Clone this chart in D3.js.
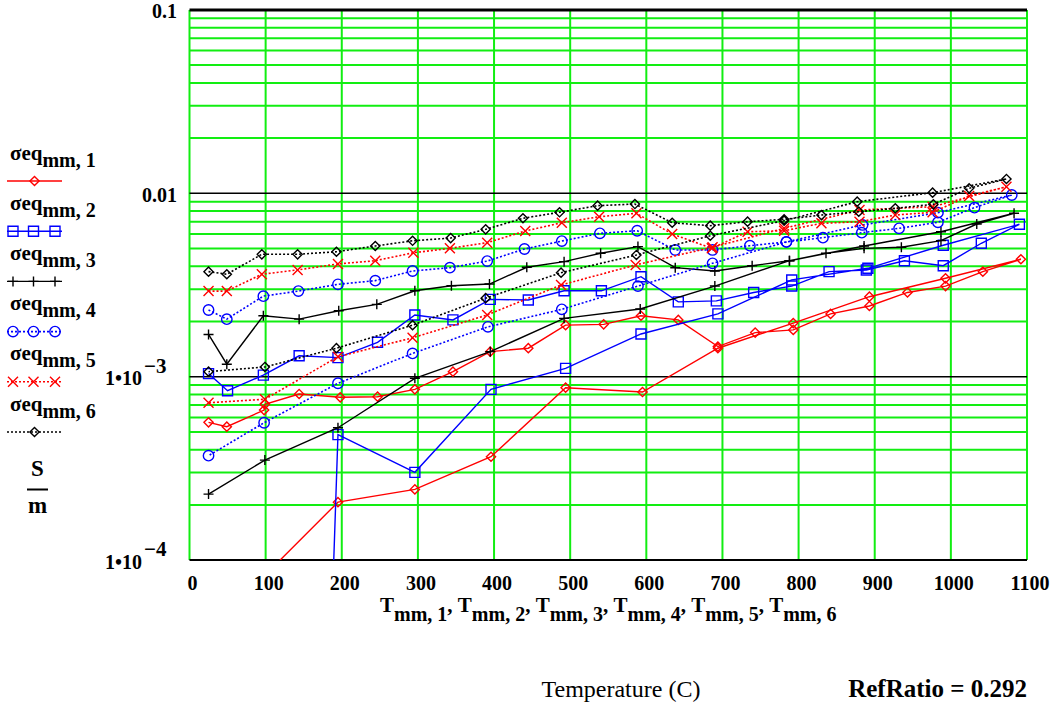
<!DOCTYPE html>
<html><head><meta charset="utf-8">
<script src="https://cdn.jsdelivr.net/npm/d3@7"></script>
<style>
body{margin:0;background:#fff}
svg{display:block}
text{font-family:"Liberation Serif","Times New Roman",serif}
</style>
</head><body>
<svg id="c" width="1057" height="704"></svg>
<script>
// ---------- data (temperature path: heating, then cooling) ----------
const T1=[25,49,98,99,144,198,247,296,346,395,445,494,544,593,642,694,743,793,842,893,943,993,1042,1092, 993,893,793,694,595,494,396,296,195,97];
const S1=[5.64e-4,5.34e-4,6.58e-4,7.07e-4,8.05e-4,7.72e-4,7.78e-4,8.53e-4,1.065e-3,1.37e-3,1.43e-3,1.91e-3,1.93e-3,2.15e-3,2.04e-3,1.46e-3,1.74e-3,1.80e-3,2.20e-3,2.43e-3,2.88e-3,3.12e-3,3.74e-3,4.37e-3, 3.44e-3,2.73e-3,1.96e-3,1.43e-3,8.25e-4,8.71e-4,3.66e-4,2.43e-4,2.07e-4,8.1e-5];

const T2=[25,50,97,144,195,247,296,346,395,445,492,541,593,642,692,741,791,840,889,939,990,1040,1090, 990,891,791,694,593,494,396,296,195,180];
const S2=[1.04e-3,8.39e-4,1.02e-3,1.30e-3,1.27e-3,1.54e-3,2.17e-3,2.04e-3,2.64e-3,2.62e-3,2.94e-3,2.94e-3,3.51e-3,2.56e-3,2.59e-3,2.88e-3,3.12e-3,3.74e-3,3.82e-3,4.29e-3,4.03e-3,5.34e-3,6.78e-3, 5.21e-3,3.90e-3,3.37e-3,2.20e-3,1.71e-3,1.11e-3,8.53e-4,3.01e-4,4.83e-4,6.7e-6];

const T3=[25,49,97,144,196,246,296,344,394,443,492,540,589,638,690,739,788,836,886,935,987,1034,1083, 987,886,788,690,592,492,395,296,195,99,25];
const S3=[1.70e-3,1.17e-3,2.15e-3,2.06e-3,2.29e-3,2.48e-3,2.94e-3,3.13e-3,3.20e-3,3.95e-3,4.24e-3,4.71e-3,5.12e-3,3.93e-3,3.77e-3,4.03e-3,4.29e-3,4.71e-3,5.01e-3,5.08e-3,5.52e-3,6.80e-3,7.78e-3, 6.17e-3,5.16e-3,4.29e-3,3.12e-3,2.34e-3,2.08e-3,1.37e-3,9.80e-4,5.27e-4,3.51e-4,2.29e-4];

const T4=[25,49,97,143,195,244,293,342,391,440,489,539,588,638,687,736,784,832,883,932,983,1031,1080, 983,884,784,687,589,489,392,293,195,98,25];
const S4=[2.31e-3,2.06e-3,2.75e-3,2.93e-3,3.19e-3,3.34e-3,3.77e-3,3.93e-3,4.27e-3,4.97e-3,5.49e-3,6.05e-3,6.25e-3,4.91e-3,4.91e-3,5.18e-3,5.43e-3,5.73e-3,6.10e-3,6.44e-3,6.95e-3,8.35e-3,9.79e-3, 7.84e-3,6.72e-3,5.43e-3,4.15e-3,3.12e-3,2.33e-3,1.87e-3,1.34e-3,9.21e-4,5.61e-4,3.71e-4];

const T5=[25,49,95,142,195,244,294,342,391,441,489,538,587,634,686,733,781,830,880,927,976,1024,1073, 976,880,781,687,586,488,391,293,195,99,25];
const S5=[2.93e-3,2.93e-3,3.62e-3,3.82e-3,4.12e-3,4.29e-3,4.74e-3,5.01e-3,5.38e-3,6.23e-3,6.91e-3,7.45e-3,7.78e-3,6.0e-3,5.01e-3,6.17e-3,6.25e-3,6.86e-3,7.0e-3,7.61e-3,7.88e-3,9.67e-3,1.086e-2, 8.45e-3,8.11e-3,6.44e-3,5.08e-3,4.07e-3,3.16e-3,2.17e-3,1.63e-3,1.285e-3,7.53e-4,7.21e-4];

const T6=[25,49,95,142,193,244,293,343,389,438,486,536,585,634,684,733,781,830,879,927,977,1024,1073, 976,877,781,684,587,488,389,293,193,99,25];
const S6=[3.74e-3,3.62e-3,4.65e-3,4.65e-3,4.80e-3,5.16e-3,5.51e-3,5.7e-3,6.36e-3,7.31e-3,7.88e-3,8.56e-3,8.74e-3,6.91e-3,6.66e-3,7.00e-3,7.21e-3,7.61e-3,7.94e-3,8.28e-3,8.71e-3,1.065e-2,1.197e-2, 1.008e-2,9.0e-3,7.09e-3,5.87e-3,4.61e-3,3.69e-3,2.68e-3,1.91e-3,1.43e-3,1.13e-3,1.065e-3];

const xTicks=[0,100,200,300,400,500,600,700,800,900,1000,1100];
const yTickValues=[0.1,0.01,0.001,0.0001];
const yTickMantissa=["0.1","0.01","1\u202210","1\u202210"];
const yTickExponent=["","","\u22123","\u22124"];
const seriesIndex=["1","2","3","4","5","6"];
const axisTitleIndex=["1","2","3","4","5","6"];
const bottomLabel="Temperature (C)";
const refLabel="RefRatio = 0.292";

// ---------- styles ----------
const styles=[
  {color:"#ff0000",dash:null,marker:"diamond",legendMarkers:1},
  {color:"#0000ff",dash:null,marker:"square",legendMarkers:3},
  {color:"#000000",dash:null,marker:"plus",legendMarkers:3},
  {color:"#0000ff",dash:"2,2",marker:"circle",legendMarkers:3},
  {color:"#ff0000",dash:"2,2",marker:"cross",legendMarkers:3},
  {color:"#000000",dash:"2,2",marker:"diamond",legendMarkers:1}
];
const seriesData=[[T1,S1],[T2,S2],[T3,S3],[T4,S4],[T5,S5],[T6,S6]].map(([t,s])=>t.map((v,i)=>({t:v,v:s[i]})));

const svg=d3.select("#c");
const L=189.5,R=1027,Top=9.9,Bot=560.1;
const x=d3.scaleLinear().domain([0,1100]).range([L,R]);
const y=d3.scaleLog().domain([1e-4,0.1]).range([Bot,Top]);
const GREEN="#12ee12";

svg.append("rect").attr("width",1057).attr("height",704).attr("fill","#fff");
svg.append("defs").append("clipPath").attr("id","clip")
  .append("rect").attr("x",L).attr("y",Top).attr("width",R-L).attr("height",Bot-Top);

const grid=svg.append("g");
const minor=[];
for(let e=-4;e<=-2;e++) for(let k=2;k<=9;k++) minor.push(k*Math.pow(10,e));
grid.selectAll("line.hm").data(minor).enter().append("line")
  .attr("x1",L).attr("x2",R).attr("y1",d=>y(d)).attr("y2",d=>y(d))
  .attr("stroke",GREEN).attr("stroke-width",2);
grid.selectAll("line.v").data(xTicks).enter().append("line")
  .attr("x1",d=>x(d)).attr("x2",d=>x(d)).attr("y1",Top).attr("y2",Bot)
  .attr("stroke",GREEN).attr("stroke-width",2);
grid.selectAll("line.dec").data(yTickValues).enter().append("line")
  .attr("x1",L).attr("x2",R).attr("y1",d=>y(d)).attr("y2",d=>y(d))
  .attr("stroke","#000").attr("stroke-width",(d,i)=>i===0?3:(i===3?2:1.6));

function markerPath(type,s){
  switch(type){
    case "diamond": return `M0,${-s}L${s},0L0,${s}L${-s},0Z`;
    case "square": return `M${-s},${-s}H${s}V${s}H${-s}Z`;
    case "plus": return `M${-s},0H${s}M0,${-s}V${s}`;
    case "cross": return `M${-s},${-s}L${s},${s}M${-s},${s}L${s},${-s}`;
    case "circle": return `M${s},0A${s},${s} 0 1,1 ${-s},0A${s},${s} 0 1,1 ${s},0Z`;
  }
}
const markerSize={diamond:4.6,square:5,plus:5,cross:5,circle:5.2};

const plot=svg.append("g").attr("clip-path","url(#clip)");
const line=d3.line().x(d=>x(d.t)).y(d=>y(d.v));
seriesData.forEach((data,i)=>{
  const st=styles[i];
  plot.append("path").datum(data).attr("d",line).attr("fill","none")
    .attr("stroke",st.color).attr("stroke-width",st.dash?1.6:1.4)
    .attr("stroke-dasharray",st.dash);
  plot.selectAll(null).data(data).enter().append("path")
    .attr("transform",d=>`translate(${x(d.t)},${y(d.v)})`)
    .attr("d",markerPath(st.marker,markerSize[st.marker]))
    .attr("fill","none").attr("stroke",st.color).attr("stroke-width",1.4);
});

// x tick labels
svg.selectAll("text.xt").data(xTicks).enter().append("text")
  .attr("x",d=>x(d)+3).attr("y",590).attr("text-anchor","middle")
  .attr("font-size",20).attr("font-weight","bold").text(d=>d);

// y tick labels
yTickValues.forEach((v,i)=>{
  const t=svg.append("text").attr("font-size",20).attr("font-weight","bold")
    .attr("y",y(v)+8.5);
  if(yTickExponent[i]===""){
    t.attr("x",177).attr("text-anchor","end").text(yTickMantissa[i]);
  } else {
    t.attr("x",105).attr("text-anchor","start");
    t.append("tspan").text(yTickMantissa[i]);
    t.append("tspan").attr("dy",-12.5).attr("dx",2).attr("font-size",21).text(yTickExponent[i]);
  }
});

// legend
styles.forEach((st,i)=>{
  const base=159.5+i*50.2;
  const t=svg.append("text").attr("x",10).attr("y",base).attr("font-size",21).attr("font-weight","bold");
  t.append("tspan").text("\u03c3eq");
  t.append("tspan").attr("dy",7).attr("font-size",20).text("mm");
  t.append("tspan").attr("font-size",20).text(", "+seriesIndex[i]);
  const ly=base+21.5;
  svg.append("line").attr("x1",7).attr("x2",62).attr("y1",ly).attr("y2",ly)
    .attr("stroke",st.color).attr("stroke-width",st.dash?1.6:1.4).attr("stroke-dasharray",st.dash);
  const mx=st.legendMarkers===1?[34.5]:[13,33.5,55];
  mx.forEach(m=>svg.append("path").attr("transform",`translate(${m},${ly})`)
    .attr("d",markerPath(st.marker,markerSize[st.marker]))
    .attr("fill","none").attr("stroke",st.color).attr("stroke-width",1.4));
});
svg.append("text").attr("x",37.5).attr("y",476).attr("text-anchor","middle")
  .attr("font-size",23).attr("font-weight","bold").text("S");
svg.append("line").attr("x1",27).attr("x2",48).attr("y1",489.5).attr("y2",489.5)
  .attr("stroke","#000").attr("stroke-width",2);
svg.append("text").attr("x",37.5).attr("y",513).attr("text-anchor","middle")
  .attr("font-size",23).attr("font-weight","bold").text("m");

// x axis title (relative shifts only, so the whole line is one centred chunk)
const shift=9;
const xt=svg.append("text").attr("x",(L+R)/2).attr("y",612).attr("text-anchor","middle")
  .attr("font-size",21).attr("font-weight","bold");
axisTitleIndex.forEach((k,i)=>{
  xt.append("tspan").text("T");
  xt.append("tspan").attr("dy",shift).attr("font-size",20).text("mm, "+k);
  if(i<axisTitleIndex.length-1) xt.append("tspan").attr("dy",-shift).text(",\u00a0");
});

svg.append("text").attr("x",541.5).attr("y",697).attr("font-size",24).text(bottomLabel);
svg.append("text").attr("x",1027).attr("y",697).attr("text-anchor","end")
  .attr("font-size",25).attr("font-weight","bold").text(refLabel);
</script>
</body></html>
